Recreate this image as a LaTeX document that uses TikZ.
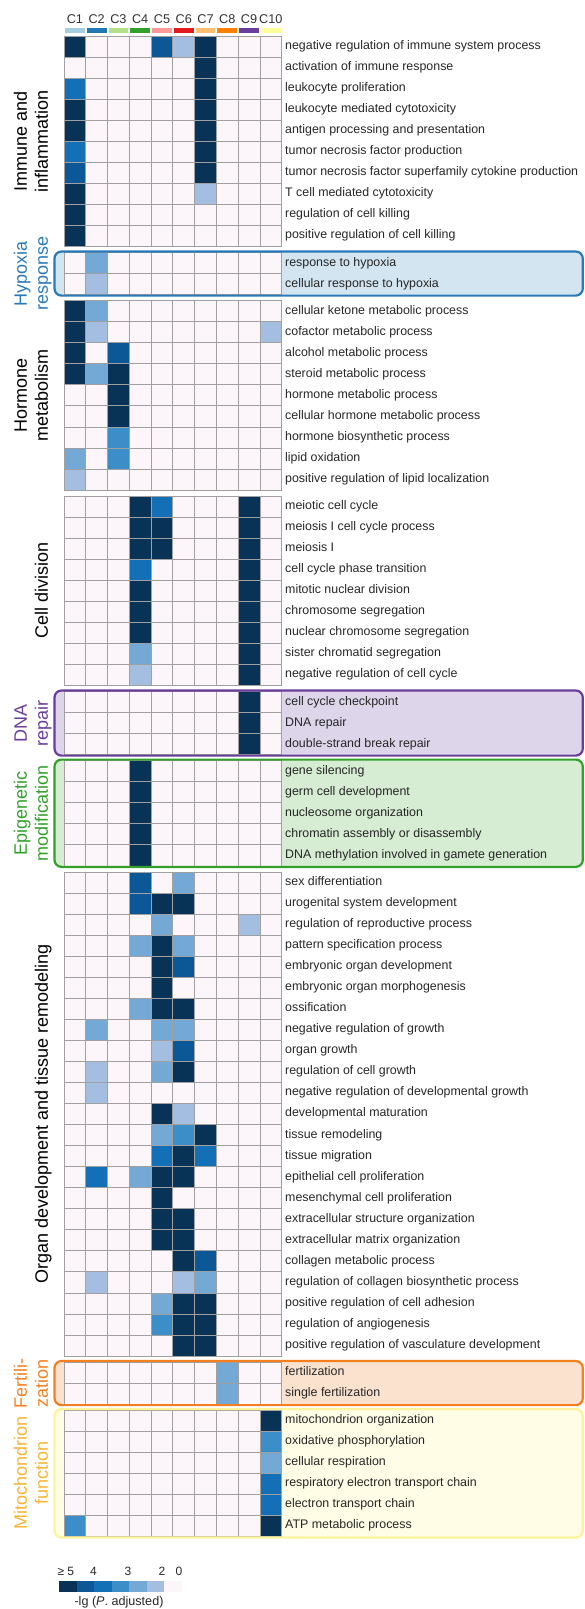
\documentclass[tikz,border=0pt]{standalone}
\usepackage{fontspec}
\setmainfont{Liberation Sans}
\definecolor{h5}{RGB}{8,50,86}
\definecolor{h4}{RGB}{12,88,150}
\definecolor{h35}{RGB}{20,112,182}
\definecolor{h3}{RGB}{60,142,200}
\definecolor{h25}{RGB}{116,168,213}
\definecolor{h2}{RGB}{164,190,226}
\definecolor{h0}{RGB}{252,245,250}
\definecolor{gridgray}{RGB}{160,160,160}
\definecolor{cl1}{HTML}{A6CEE3}
\definecolor{cl2}{HTML}{1F78B4}
\definecolor{cl3}{HTML}{B2DF8A}
\definecolor{cl4}{HTML}{33A02C}
\definecolor{cl5}{HTML}{FB9A99}
\definecolor{cl6}{HTML}{E31A1C}
\definecolor{cl7}{HTML}{FDBF6F}
\definecolor{cl8}{HTML}{FF7F00}
\definecolor{cl9}{HTML}{6A3D9A}
\definecolor{cl10}{HTML}{FFFF99}
\definecolor{line-hyp}{RGB}{42,122,185}
\definecolor{fill-hyp}{RGB}{211,229,241}
\definecolor{line-dna}{RGB}{106,61,154}
\definecolor{fill-dna}{RGB}{221,213,234}
\definecolor{line-epi}{RGB}{51,160,44}
\definecolor{fill-epi}{RGB}{214,236,211}
\definecolor{line-fer}{RGB}{244,127,32}
\definecolor{fill-fer}{RGB}{251,226,207}
\definecolor{line-mit}{RGB}{253,243,155}
\definecolor{fill-mit}{RGB}{255,253,229}
\definecolor{text-mit}{RGB}{247,180,50}
\newcommand{\heatgroup}[3]{%
  \foreach \vals/\txt [count=\r] in {#3}{
    \foreach \v [count=\c] in \vals
      \draw[cell,fill=h\v] ({64+(\c-1)*21.77},{#2+(\r-1)*21.05}) rectangle ++(21.77,21.05);
    \node[term] (#1-\r) at (285,{#2+(\r-0.5)*21.05+3}) {\txt};
  }}
\begin{document}
\begin{tikzpicture}[x=1pt,y=-1pt]
\tikzset{
  cell/.style={draw=gridgray,line width=0.8pt},
  term/.style={anchor=base west,inner sep=0pt,text=black!85,font=\fontsize{12.4}{14}\selectfont},
  group/.style={rotate=90,anchor=south,inner sep=0pt,align=center,font=\fontsize{18}{21}\selectfont},
  colhead/.style={anchor=base,inner sep=0pt,text=black!80,font=\fontsize{12.7}{14}\selectfont},
  legtext/.style={anchor=base,inner sep=0pt,text=black!85,font=\fontsize{12}{14}\selectfont},
  gbox/.style={rounded corners=7pt,line width=2.2pt}
}
\useasboundingbox (0,0) rectangle (584,1609);
\foreach \ya/\yb/\bc in {251.5/295.6/hyp,690.5/755.6/dna,759.6/866.9/epi,1361/1405.1/fer,1409.1/1537.5/mit}
  \fill[rounded corners=7pt,fill-\bc] (54.5,\ya) rectangle (582.8,\yb);
\foreach \i in {1,...,10}{
  \node[colhead] (c\i) at ({64+(\i-0.5)*21.77},23.3) {C\i};
  \fill[cl\i] ({64+(\i-1)*21.77+1},28) rectangle ({64+\i*21.77-1},33.3);
}
\heatgroup{imm}{36}{
  {5,0,0,0,4,2,5,0,0,0}/negative regulation of immune system process,
  {0,0,0,0,0,0,5,0,0,0}/activation of immune response,
  {35,0,0,0,0,0,5,0,0,0}/leukocyte proliferation,
  {5,0,0,0,0,0,5,0,0,0}/leukocyte mediated cytotoxicity,
  {5,0,0,0,0,0,5,0,0,0}/antigen processing and presentation,
  {35,0,0,0,0,0,5,0,0,0}/tumor necrosis factor production,
  {4,0,0,0,0,0,5,0,0,0}/tumor necrosis factor superfamily cytokine production,
  {5,0,0,0,0,0,2,0,0,0}/T cell mediated cytotoxicity,
  {5,0,0,0,0,0,0,0,0,0}/regulation of cell killing,
  {5,0,0,0,0,0,0,0,0,0}/positive regulation of cell killing}
\heatgroup{hyp}{252.5}{
  {0,25,0,0,0,0,0,0,0,0}/response to hypoxia,
  {0,2,0,0,0,0,0,0,0,0}/cellular response to hypoxia}
\heatgroup{hor}{300.6}{
  {5,25,0,0,0,0,0,0,0,0}/cellular ketone metabolic process,
  {5,2,0,0,0,0,0,0,0,2}/cofactor metabolic process,
  {5,0,4,0,0,0,0,0,0,0}/alcohol metabolic process,
  {5,25,5,0,0,0,0,0,0,0}/steroid metabolic process,
  {0,0,5,0,0,0,0,0,0,0}/hormone metabolic process,
  {0,0,5,0,0,0,0,0,0,0}/cellular hormone metabolic process,
  {0,0,3,0,0,0,0,0,0,0}/hormone biosynthetic process,
  {25,0,3,0,0,0,0,0,0,0}/lipid oxidation,
  {2,0,0,0,0,0,0,0,0,0}/positive regulation of lipid localization}
\heatgroup{div}{496.05}{
  {0,0,0,5,35,0,0,0,5,0}/meiotic cell cycle,
  {0,0,0,5,5,0,0,0,5,0}/meiosis I cell cycle process,
  {0,0,0,5,5,0,0,0,5,0}/meiosis I,
  {0,0,0,35,0,0,0,0,5,0}/cell cycle phase transition,
  {0,0,0,5,0,0,0,0,5,0}/mitotic nuclear division,
  {0,0,0,5,0,0,0,0,5,0}/chromosome segregation,
  {0,0,0,5,0,0,0,0,5,0}/nuclear chromosome segregation,
  {0,0,0,25,0,0,0,0,5,0}/sister chromatid segregation,
  {0,0,0,2,0,0,0,0,5,0}/negative regulation of cell cycle}
\heatgroup{dna}{691.5}{
  {0,0,0,0,0,0,0,0,5,0}/cell cycle checkpoint,
  {0,0,0,0,0,0,0,0,5,0}/DNA repair,
  {0,0,0,0,0,0,0,0,5,0}/double-strand break repair}
\heatgroup{epi}{760.65}{
  {0,0,0,5,0,0,0,0,0,0}/gene silencing,
  {0,0,0,5,0,0,0,0,0,0}/germ cell development,
  {0,0,0,5,0,0,0,0,0,0}/nucleosome organization,
  {0,0,0,5,0,0,0,0,0,0}/chromatin assembly or disassembly,
  {0,0,0,5,0,0,0,0,0,0}/DNA methylation involved in gamete generation}
\heatgroup{org}{871.9}{
  {0,0,0,4,0,25,0,0,0,0}/sex differentiation,
  {0,0,0,4,5,5,0,0,0,0}/urogenital system development,
  {0,0,0,0,25,0,0,0,2,0}/regulation of reproductive process,
  {0,0,0,25,5,25,0,0,0,0}/pattern specification process,
  {0,0,0,0,5,4,0,0,0,0}/embryonic organ development,
  {0,0,0,0,5,0,0,0,0,0}/embryonic organ morphogenesis,
  {0,0,0,25,5,5,0,0,0,0}/ossification,
  {0,25,0,0,25,25,0,0,0,0}/negative regulation of growth,
  {0,0,0,0,2,4,0,0,0,0}/organ growth,
  {0,2,0,0,25,5,0,0,0,0}/regulation of cell growth,
  {0,2,0,0,0,0,0,0,0,0}/negative regulation of developmental growth,
  {0,0,0,0,5,2,0,0,0,0}/developmental maturation,
  {0,0,0,0,25,3,5,0,0,0}/tissue remodeling,
  {0,0,0,0,35,5,35,0,0,0}/tissue migration,
  {0,35,0,25,5,5,0,0,0,0}/epithelial cell proliferation,
  {0,0,0,0,5,0,0,0,0,0}/mesenchymal cell proliferation,
  {0,0,0,0,5,5,0,0,0,0}/extracellular structure organization,
  {0,0,0,0,5,5,0,0,0,0}/extracellular matrix organization,
  {0,0,0,0,0,5,4,0,0,0}/collagen metabolic process,
  {0,2,0,0,0,2,25,0,0,0}/regulation of collagen biosynthetic process,
  {0,0,0,0,25,5,5,0,0,0}/positive regulation of cell adhesion,
  {0,0,0,0,3,5,5,0,0,0}/regulation of angiogenesis,
  {0,0,0,0,0,5,5,0,0,0}/positive regulation of vasculature development}
\heatgroup{fer}{1362.05}{
  {0,0,0,0,0,0,0,25,0,0}/fertilization,
  {0,0,0,0,0,0,0,25,0,0}/single fertilization}
\heatgroup{mit}{1410.15}{
  {0,0,0,0,0,0,0,0,0,5}/mitochondrion organization,
  {0,0,0,0,0,0,0,0,0,3}/oxidative phosphorylation,
  {0,0,0,0,0,0,0,0,0,25}/cellular respiration,
  {0,0,0,0,0,0,0,0,0,35}/respiratory electron transport chain,
  {0,0,0,0,0,0,0,0,0,35}/electron transport chain,
  {3,0,0,0,0,0,0,0,0,5}/ATP metabolic process}
\foreach \ya/\yb/\bc in {251.5/295.6/hyp,690.5/755.6/dna,759.6/866.9/epi,1361/1405.1/fer,1409.1/1537.5/mit}
  \draw[gbox,line-\bc] (54.5,\ya) rectangle (582.8,\yb);
\node[group] (lab-imm) at (54.3,141.25) {Immune and\\inflammation\strut};
\node[group,text=line-hyp] (lab-hyp) at (54.3,273.55) {Hypoxia\\response\strut};
\node[group] (lab-hor) at (54.3,395.3) {Hormone\\metabolism\strut};
\node[group] (lab-div) at (54.3,590.8) {Cell division\strut};
\node[group,text=line-dna] (lab-dna) at (54.3,723.1) {DNA\\repair\strut};
\node[group,text=line-epi] (lab-epi) at (54.3,813.3) {Epigenetic\\modification\strut};
\node[group] (lab-org) at (54.3,1114) {Organ development and tissue remodeling\strut};
\node[group,text=line-fer] (lab-fer) at (54.3,1383.1) {Fertili-\\zation\strut};
\node[group,text=text-mit] (lab-mit) at (54.3,1473.3) {Mitochondrion\\function\strut};
\foreach \k/\cc in {1/h5,2/h4,3/h35,4/h3,5/h25,6/h2,7/h0}
  \fill[\cc] ({59.3+(\k-1)*17.5},1580.7) rectangle ++(17.5,10.8);
\node[legtext,anchor=base west] (leg5) at (57.3,1575) {≥ 5};
\node[legtext] (leg4) at (93.5,1575) {4};
\node[legtext] (leg3) at (128,1575) {3};
\node[legtext] (leg2) at (162,1575) {2};
\node[legtext] (leg0) at (179,1575) {0};
\node[legtext,font=\fontsize{12.6}{14}\selectfont] (legcap) at (119,1605) {-lg (\textit{P}. adjusted)};
\end{tikzpicture}
\end{document}
